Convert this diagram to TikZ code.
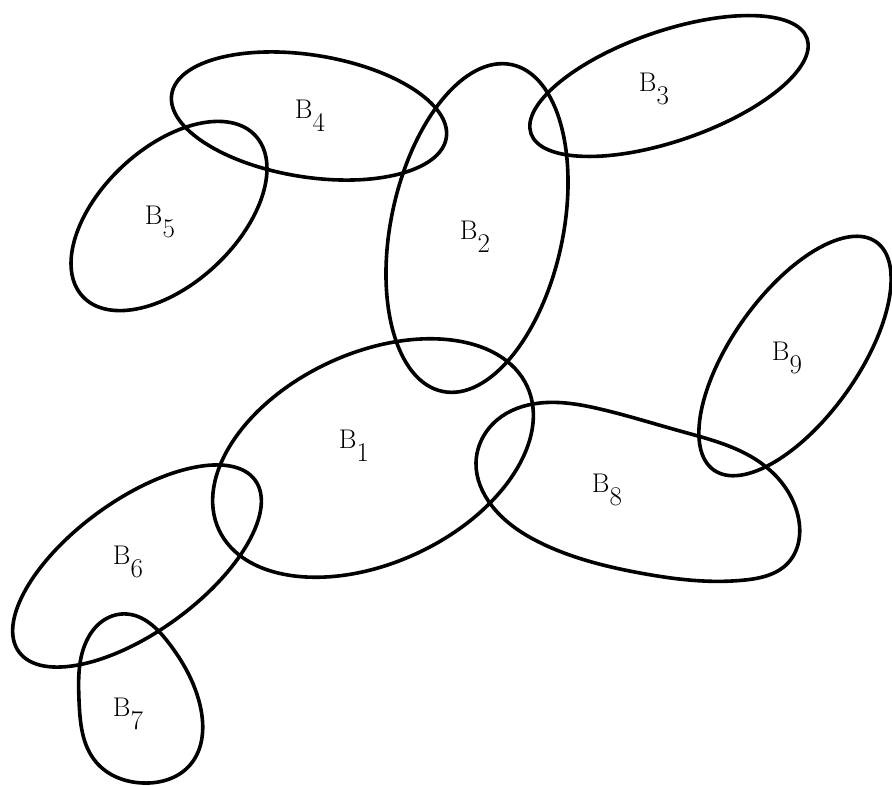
\documentclass[tikz,border=0pt]{standalone}
\usetikzlibrary{shapes.geometric,hobby}
\tikzset{
  blob/.style={draw=black, ellipse, line width=3.6pt, inner sep=0pt, fill=none},
  freeblob/.style={draw=black, line width=3.6pt, fill=none, use Hobby shortcut, closed=true},
  lab/.style={font=\fontsize{27}{30}\selectfont, inner sep=0pt}
}
\newcommand{\lbl}[2]{#1\raisebox{-0.5em}{#2}}
\begin{document}
\begin{tikzpicture}[x=1pt,y=-1pt]
\useasboundingbox (0,0) rectangle (892,785);
\node[blob, minimum width=278pt, minimum height=122pt, rotate=-9] (e4) at (309,116) {};
\node[blob, minimum width=236pt, minimum height=136pt, rotate=43] (e5) at (169,216) {};
\node[blob, minimum width=334pt, minimum height=172pt, rotate=78] (e2) at (477,228) {};
\node[blob, minimum width=292pt, minimum height=110pt, rotate=19] (e3) at (669,86) {};
\node[blob, minimum width=340pt, minimum height=210pt, rotate=25] (e1) at (373,458) {};
\node[blob, minimum width=280pt, minimum height=126pt, rotate=54.5] (e9) at (795,356) {};
\node[blob, minimum width=292pt, minimum height=132pt, rotate=36] (e6) at (137,566) {};
% B8: pill-like outline
\draw[freeblob] (476,463) .. (497,420) .. (540,403) .. (600,409) .. (680,431) .. (765,466)
  .. (797,512) .. (788,563) .. (745,580) .. (640,573) .. (545,545) .. (492,506);
% B7: egg-like outline
\draw[freeblob] (127,614) .. (168,642) .. (200,705) .. (190,765) .. (143,783)
  .. (96,762) .. (79,700) .. (88,638) .. (104,620);

\node[lab] (l4) at (310,116) {\lbl{B}{4}};
\node[lab] (l5) at (160,222) {\lbl{B}{5}};
\node[lab] (l2) at (475,237) {\lbl{B}{2}};
\node[lab] (l3) at (654,89) {\lbl{B}{3}};
\node[lab] (l9) at (787,358) {\lbl{B}{9}};
\node[lab] (l1) at (354,446) {\lbl{B}{1}};
\node[lab] (l8) at (607,490) {\lbl{B}{8}};
\node[lab] (l6) at (128,562) {\lbl{B}{6}};
\node[lab] (l7) at (128,714) {\lbl{B}{7}};
\end{tikzpicture}
\end{document}
